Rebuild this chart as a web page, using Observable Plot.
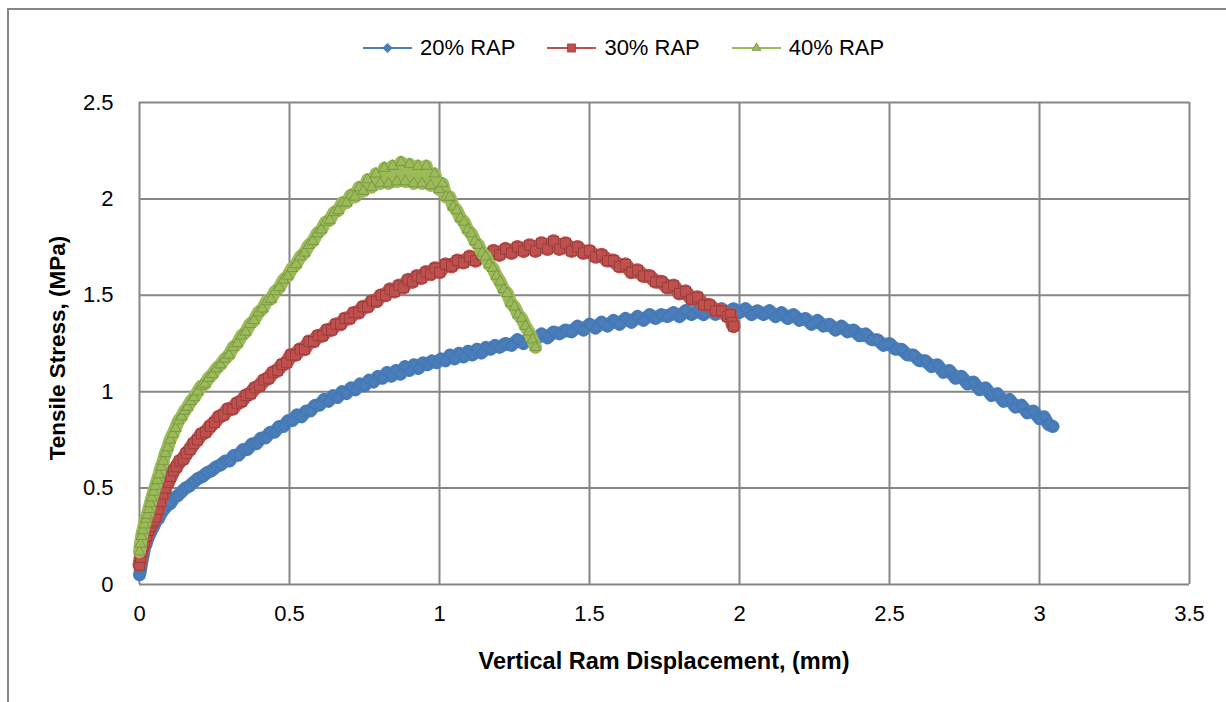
<!DOCTYPE html>
<html>
<head>
<meta charset="utf-8">
<script src="https://cdn.jsdelivr.net/npm/d3@7"></script>
<script src="https://cdn.jsdelivr.net/npm/@observablehq/plot@0.6"></script>
<style>
html,body{margin:0;padding:0;background:#fff;}
#wrap{position:relative;width:1226px;height:702px;overflow:hidden;font-family:"Liberation Sans",Arial,sans-serif;color:#000;}
#frame{position:absolute;left:7px;top:8px;width:1300px;height:800px;border-left:2px solid #868686;border-top:2px solid #868686;box-sizing:border-box;}
#chart{position:absolute;left:0;top:0;}
#legend{position:absolute;top:35px;left:363px;display:flex;align-items:center;font-size:22px;line-height:26px;white-space:nowrap;}
.item{display:flex;align-items:center;margin-right:32px;}
.item svg{margin-right:8px;display:block;}
#ytitle{position:absolute;left:58px;top:348px;transform:translate(-50%,-50%) rotate(-90deg);font-weight:bold;font-size:22.5px;white-space:nowrap;}
#xtitle{position:absolute;left:664px;top:661px;transform:translate(-50%,-50%);font-weight:bold;font-size:23.5px;white-space:nowrap;}
</style>
</head>
<body>
<div id="wrap">
  <div id="frame"></div>
  <div id="chart"></div>
  <div id="legend"></div>
  <div id="ytitle">Tensile Stress, (MPa)</div>
  <div id="xtitle">Vertical Ram Displacement, (mm)</div>
</div>
<script>
// ---- Data ----
const seriesNames = ["20% RAP", "30% RAP", "40% RAP"];
const xTicks = [0, 0.5, 1, 1.5, 2, 2.5, 3, 3.5];
const xTickLabels = ["0", "0.5", "1", "1.5", "2", "2.5", "3", "3.5"];
const yTicks = [0, 0.5, 1, 1.5, 2, 2.5];
const yTickLabels = ["0", "0.5", "1", "1.5", "2", "2.5"];

// 20% RAP: [displacement mm, stress MPa]
const rap20 = [[0.000,0.05],[0.004,0.08],[0.008,0.12],[0.012,0.15],[0.017,0.19],[0.022,0.21],[0.028,0.24],[0.034,0.26],[0.040,0.28],[0.047,0.30],[0.055,0.33],[0.063,0.34],[0.072,0.37],[0.082,0.39],[0.092,0.41],[0.103,0.42],[0.115,0.45],[0.127,0.46],[0.140,0.48],[0.153,0.50],[0.166,0.51],[0.180,0.53],[0.195,0.55],[0.210,0.56],[0.225,0.58],[0.240,0.59],[0.255,0.61],[0.270,0.62],[0.285,0.64],[0.300,0.64],[0.315,0.67],[0.330,0.67],[0.345,0.70],[0.360,0.70],[0.375,0.73],[0.390,0.73],[0.405,0.76],[0.420,0.76],[0.435,0.79],[0.450,0.79],[0.465,0.82],[0.480,0.82],[0.495,0.85],[0.510,0.85],[0.525,0.88],[0.540,0.87],[0.555,0.90],[0.570,0.90],[0.585,0.93],[0.600,0.93],[0.615,0.96],[0.630,0.95],[0.645,0.98],[0.660,0.97],[0.675,1.00],[0.690,0.99],[0.705,1.02],[0.720,1.01],[0.735,1.04],[0.750,1.03],[0.765,1.06],[0.780,1.05],[0.795,1.08],[0.810,1.07],[0.825,1.10],[0.840,1.08],[0.855,1.11],[0.870,1.09],[0.885,1.13],[0.900,1.11],[0.915,1.14],[0.930,1.12],[0.945,1.15],[0.960,1.14],[0.975,1.16],[0.990,1.15],[1.005,1.17],[1.020,1.16],[1.035,1.19],[1.050,1.17],[1.065,1.20],[1.080,1.18],[1.095,1.21],[1.110,1.19],[1.125,1.22],[1.140,1.20],[1.155,1.23],[1.170,1.22],[1.185,1.24],[1.200,1.23],[1.220,1.25],[1.240,1.24],[1.260,1.27],[1.280,1.25],[1.300,1.28],[1.320,1.27],[1.340,1.30],[1.360,1.28],[1.380,1.31],[1.400,1.30],[1.420,1.32],[1.440,1.31],[1.460,1.34],[1.480,1.32],[1.500,1.35],[1.520,1.33],[1.540,1.36],[1.560,1.34],[1.580,1.37],[1.600,1.35],[1.620,1.38],[1.640,1.36],[1.660,1.39],[1.680,1.37],[1.700,1.40],[1.720,1.38],[1.740,1.40],[1.760,1.39],[1.780,1.41],[1.800,1.39],[1.820,1.42],[1.840,1.40],[1.860,1.42],[1.880,1.40],[1.900,1.43],[1.920,1.40],[1.940,1.43],[1.960,1.41],[1.980,1.43],[2.000,1.41],[2.020,1.43],[2.040,1.40],[2.060,1.42],[2.080,1.40],[2.100,1.42],[2.120,1.39],[2.140,1.41],[2.160,1.38],[2.180,1.40],[2.200,1.37],[2.220,1.38],[2.240,1.35],[2.260,1.37],[2.280,1.34],[2.300,1.35],[2.320,1.32],[2.340,1.34],[2.360,1.31],[2.380,1.32],[2.400,1.29],[2.420,1.30],[2.440,1.27],[2.460,1.27],[2.480,1.24],[2.500,1.25],[2.520,1.22],[2.540,1.22],[2.560,1.19],[2.580,1.19],[2.600,1.16],[2.620,1.16],[2.640,1.13],[2.660,1.14],[2.680,1.10],[2.700,1.11],[2.720,1.07],[2.740,1.08],[2.760,1.04],[2.780,1.05],[2.800,1.01],[2.820,1.02],[2.840,0.98],[2.860,0.99],[2.880,0.95],[2.900,0.96],[2.920,0.92],[2.940,0.93],[2.960,0.89],[2.980,0.90],[3.000,0.86],[3.015,0.87],[3.030,0.83],[3.045,0.82]];

// 30% RAP
const rap30 = [[0.000,0.10],[0.004,0.14],[0.008,0.17],[0.013,0.20],[0.018,0.22],[0.024,0.25],[0.030,0.28],[0.036,0.30],[0.042,0.32],[0.048,0.33],[0.055,0.35],[0.062,0.39],[0.070,0.43],[0.078,0.47],[0.086,0.50],[0.095,0.53],[0.104,0.56],[0.113,0.59],[0.123,0.61],[0.134,0.64],[0.145,0.65],[0.156,0.68],[0.168,0.70],[0.180,0.73],[0.193,0.75],[0.206,0.78],[0.220,0.79],[0.235,0.82],[0.250,0.84],[0.265,0.87],[0.280,0.88],[0.295,0.91],[0.310,0.91],[0.325,0.94],[0.340,0.95],[0.355,0.98],[0.370,0.99],[0.385,1.02],[0.400,1.03],[0.415,1.06],[0.430,1.07],[0.445,1.10],[0.460,1.11],[0.475,1.14],[0.490,1.15],[0.505,1.19],[0.520,1.19],[0.535,1.22],[0.550,1.22],[0.565,1.26],[0.580,1.26],[0.595,1.29],[0.610,1.29],[0.625,1.32],[0.640,1.32],[0.655,1.35],[0.670,1.35],[0.685,1.38],[0.700,1.38],[0.715,1.41],[0.730,1.41],[0.745,1.44],[0.760,1.44],[0.775,1.47],[0.790,1.47],[0.805,1.50],[0.820,1.50],[0.835,1.53],[0.850,1.52],[0.865,1.55],[0.880,1.54],[0.895,1.58],[0.910,1.57],[0.925,1.60],[0.940,1.59],[0.955,1.62],[0.970,1.61],[0.985,1.64],[1.000,1.62],[1.020,1.66],[1.040,1.65],[1.060,1.68],[1.080,1.67],[1.100,1.70],[1.120,1.68],[1.140,1.71],[1.160,1.70],[1.180,1.73],[1.200,1.71],[1.220,1.74],[1.240,1.72],[1.260,1.75],[1.280,1.73],[1.300,1.76],[1.320,1.73],[1.340,1.77],[1.360,1.74],[1.380,1.78],[1.400,1.74],[1.420,1.77],[1.440,1.73],[1.460,1.75],[1.480,1.72],[1.500,1.73],[1.520,1.70],[1.540,1.71],[1.560,1.68],[1.580,1.68],[1.600,1.65],[1.620,1.66],[1.640,1.62],[1.660,1.63],[1.680,1.60],[1.700,1.60],[1.720,1.57],[1.740,1.57],[1.760,1.54],[1.780,1.55],[1.800,1.51],[1.820,1.52],[1.840,1.48],[1.860,1.49],[1.880,1.45],[1.900,1.45],[1.920,1.42],[1.940,1.42],[1.960,1.39],[1.970,1.40],[1.975,1.36],[1.980,1.34]];

// 40% RAP
const rap40 = [[0.000,0.17],[0.003,0.21],[0.007,0.25],[0.011,0.28],[0.016,0.31],[0.021,0.34],[0.026,0.36],[0.031,0.39],[0.036,0.42],[0.041,0.45],[0.047,0.48],[0.053,0.51],[0.059,0.54],[0.065,0.57],[0.072,0.61],[0.079,0.64],[0.086,0.68],[0.094,0.71],[0.102,0.75],[0.111,0.78],[0.120,0.81],[0.130,0.85],[0.140,0.87],[0.150,0.90],[0.160,0.92],[0.171,0.95],[0.182,0.97],[0.194,1.00],[0.206,1.03],[0.218,1.04],[0.230,1.07],[0.243,1.09],[0.256,1.12],[0.270,1.14],[0.284,1.17],[0.298,1.19],[0.312,1.23],[0.326,1.25],[0.340,1.29],[0.354,1.31],[0.368,1.35],[0.382,1.37],[0.396,1.41],[0.410,1.43],[0.424,1.47],[0.438,1.48],[0.452,1.52],[0.466,1.54],[0.480,1.58],[0.494,1.60],[0.508,1.64],[0.522,1.66],[0.536,1.70],[0.550,1.72],[0.564,1.76],[0.578,1.78],[0.592,1.82],[0.606,1.84],[0.620,1.88],[0.634,1.89],[0.648,1.93],[0.662,1.94],[0.676,1.98],[0.690,1.98],[0.704,2.02],[0.718,2.01],[0.732,2.06],[0.746,2.04],[0.760,2.10],[0.774,2.06],[0.788,2.13],[0.802,2.08],[0.816,2.16],[0.830,2.08],[0.844,2.17],[0.858,2.09],[0.872,2.19],[0.886,2.09],[0.900,2.18],[0.914,2.08],[0.928,2.17],[0.942,2.08],[0.956,2.17],[0.970,2.07],[0.984,2.13],[0.998,2.05],[1.010,2.08],[1.022,2.01],[1.034,2.01],[1.046,1.96],[1.058,1.94],[1.070,1.90],[1.082,1.88],[1.094,1.84],[1.106,1.82],[1.118,1.78],[1.130,1.76],[1.142,1.72],[1.154,1.70],[1.166,1.66],[1.178,1.64],[1.190,1.60],[1.202,1.57],[1.214,1.53],[1.226,1.51],[1.238,1.46],[1.250,1.44],[1.262,1.40],[1.274,1.38],[1.286,1.34],[1.298,1.31],[1.310,1.27],[1.320,1.23]];

// ---- Styles ----
const colors = ["#4a7ebb", "#c0504d", "#9bbb59"];
const edges = ["#4170aa", "#8c3836", "#71893f"];
const symbols = ["diamond2", "square", "triangle2"];
const radii = [5.0, 5.6, 5.3];
const bandWidths = [13, 14, 13];
const seriesData = [rap20, rap30, rap40];

const marks = [
  Plot.gridX(xTicks, {stroke: "#868686", strokeOpacity: 1, strokeWidth: 2}),
  Plot.gridY(yTicks, {stroke: "#868686", strokeOpacity: 1, strokeWidth: 2}),
  Plot.axisX(xTicks, {anchor: "bottom", tickSize: 0, tickPadding: 21, label: null, tickFormat: (d, i) => xTickLabels[i]}),
  Plot.axisY(yTicks, {anchor: "left", tickSize: 0, tickPadding: 26, label: null, tickFormat: (d, i) => yTickLabels[i]})
];
seriesData.forEach((data, k) => {
  marks.push(Plot.line(data, {x: d => d[0], y: d => d[1], stroke: colors[k], strokeWidth: bandWidths[k], strokeLinejoin: "round", strokeLinecap: "round"}));
  marks.push(Plot.dot(data, {x: d => d[0], y: d => d[1], symbol: symbols[k], r: radii[k], fill: colors[k], stroke: edges[k], strokeWidth: 0.7}));
});

const chart = Plot.plot({
  width: 1226,
  height: 702,
  marginLeft: 139,
  marginRight: 37,
  marginTop: 102,
  marginBottom: 118,
  x: {type: "linear", domain: [0, 3.5]},
  y: {type: "linear", domain: [0, 2.5]},
  style: {fontFamily: "'Liberation Sans', Arial, sans-serif", fontSize: "22px", color: "#000", background: "transparent", overflow: "visible"},
  marks
});
document.getElementById("chart").appendChild(chart);

// ---- Legend (HTML, above the plot) ----
const legend = document.getElementById("legend");
seriesNames.forEach((name, k) => {
  const item = document.createElement("div");
  item.className = "item";
  const sym = {diamond2: d3.symbolDiamond2, square: d3.symbolSquare, triangle2: d3.symbolTriangle2}[symbols[k]];
  const size = Math.PI * 4.6 * 4.6 * (k === 1 ? 1 : 0.85);
  const path = d3.symbol(sym, size)();
  item.innerHTML = `<svg width="49" height="20" viewBox="0 0 49 20"><line x1="0" x2="49" y1="10" y2="10" stroke="${colors[k]}" stroke-width="2"/><path d="${path}" transform="translate(24.5,10)" fill="${colors[k]}" stroke="${edges[k]}" stroke-width="0.7"/></svg><span>${name}</span>`;
  legend.appendChild(item);
});
</script>
</body>
</html>
